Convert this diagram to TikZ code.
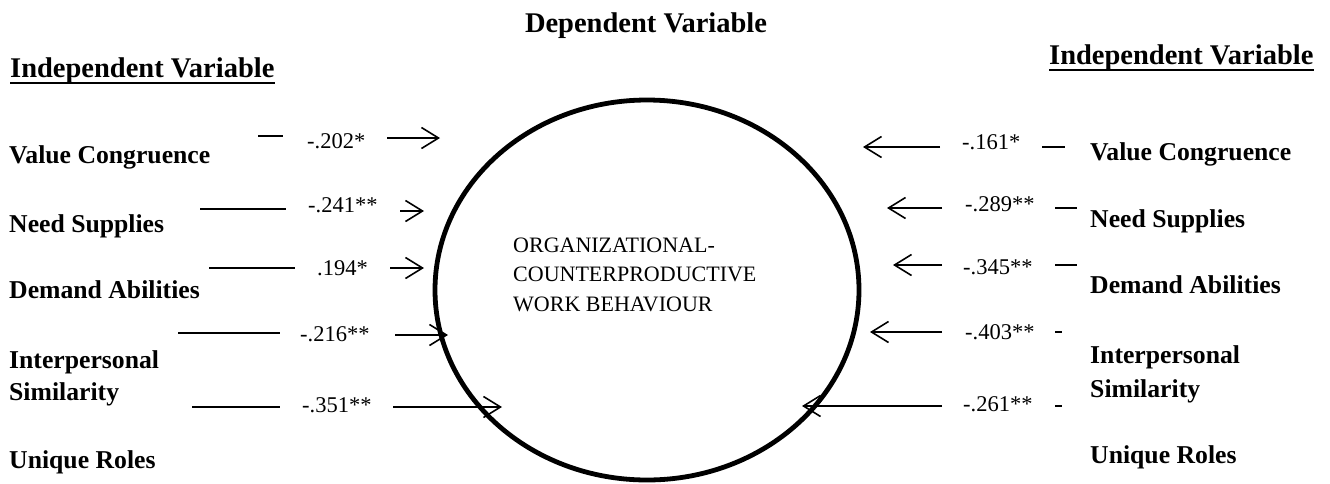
\documentclass[tikz,border=0pt]{standalone}
\usepackage{fontspec}
\setmainfont{Liberation Serif}
\usetikzlibrary{arrows.meta,calc,shapes.geometric}
\begin{document}
\begin{tikzpicture}[x=1pt,y=-1pt,
  lab/.style={anchor=base west, inner sep=0pt, font=\fontsize{25.7}{30}\selectfont\bfseries},
  headtxt/.style={inner sep=0pt, font=\fontsize{28.5}{32}\selectfont\bfseries},
  num/.style={anchor=base west, inner sep=0pt, font=\fontsize{22.5}{27}\selectfont},
  seg/.style={line width=1.6pt},
  arr/.style={line width=1.6pt, -{Straight Barb[length=17pt,width=21pt,line width=1.6pt]}},
  uline/.style={line width=2.4pt},
  ]
\useasboundingbox (0,0) rectangle (1330,483);

% dependent variable
\node[headtxt, anchor=base] (dep) at (646,32) {Dependent Variable};
\node[draw, ellipse, line width=4.8pt, minimum width=424pt, minimum height=380pt, inner sep=0pt] (dv) at (647,290) {};
\node[anchor=north west, inner sep=0pt, align=left, font=\fontsize{22}{29.5}\selectfont] (dvt) at (513,237.5)
  {ORGANIZATIONAL-\\COUNTERPRODUCTIVE\\WORK BEHAVIOUR};

% headings
\node[headtxt, anchor=base west] (lh) at (10,77) {Independent Variable};
\draw[uline] ($(lh.base west)+(0,6)$) -- ($(lh.base east)+(0,6)$);
\node[headtxt, anchor=base west] (rh) at (1049,64) {Independent Variable};
\draw[uline] ($(rh.base west)+(0,6)$) -- ($(rh.base east)+(0,6)$);

% left labels
\node[lab] (l1) at (9,163) {Value Congruence};
\node[lab] (l2) at (9,232) {Need Supplies};
\node[lab] (l3) at (9,298) {Demand Abilities};
\node[lab] (l4) at (9,368) {Interpersonal};
\node[lab] (l4b) at (9,400) {Similarity};
\node[lab] (l5) at (9,468) {Unique Roles};

% right labels
\node[lab] (r1) at (1090,160) {Value Congruence};
\node[lab] (r2) at (1090,227) {Need Supplies};
\node[lab] (r3) at (1090,293) {Demand Abilities};
\node[lab] (r4) at (1090,363) {Interpersonal};
\node[lab] (r4b) at (1090,397) {Similarity};
\node[lab] (r5) at (1090,463) {Unique Roles};

% left numbers
\node[num] (ln1) at (307,148) {-.202*};
\node[num] (ln2) at (308,212) {-.241**};
\node[num] (ln3) at (317,275) {.194*};
\node[num] (ln4) at (300,341) {-.216**};
\node[num] (ln5) at (302,412) {-.351**};

% right numbers
\node[num] (rn1) at (962,149) {-.161*};
\node[num] (rn2) at (965,211) {-.289**};
\node[num] (rn3) at (963,274) {-.345**};
\node[num] (rn4) at (965,339) {-.403**};
\node[num] (rn5) at (963,411) {-.261**};

% left connectors
\coordinate (la1) at (258,136); \coordinate (lb1) at (283,136);
\coordinate (lc1) at (387,138); \coordinate (ld1) at (440,138);
\coordinate (la2) at (200,209); \coordinate (lb2) at (286,209);
\coordinate (lc2) at (400,211); \coordinate (ld2) at (424,211);
\coordinate (la3) at (209,268); \coordinate (lb3) at (295,268);
\coordinate (lc3) at (390,268); \coordinate (ld3) at (424,268);
\coordinate (la4) at (178,333); \coordinate (lb4) at (280,333);
\coordinate (lc4) at (395,335); \coordinate (ld4) at (448,335);
\coordinate (la5) at (192,407); \coordinate (lb5) at (280,407);
\coordinate (lc5) at (393,407); \coordinate (ld5) at (502,407);
\foreach \i in {1,...,5} {
  \draw[seg] (la\i) -- (lb\i);
  \draw[arr] (lc\i) -- (ld\i);
}

% right connectors
\coordinate (rc1) at (940,147); \coordinate (rd1) at (863,147);
\coordinate (ra1) at (1042,147); \coordinate (rb1) at (1065,147);
\coordinate (rc2) at (942,208); \coordinate (rd2) at (887,208);
\coordinate (ra2) at (1055,208); \coordinate (rb2) at (1077,208);
\coordinate (rc3) at (942,265); \coordinate (rd3) at (893,265);
\coordinate (ra3) at (1055,265); \coordinate (rb3) at (1077,265);
\coordinate (rc4) at (942,332); \coordinate (rd4) at (870,332);
\coordinate (ra4) at (1055,332); \coordinate (rb4) at (1062,332);
\coordinate (rc5) at (942,406); \coordinate (rd5) at (802,406);
\coordinate (ra5) at (1055,406); \coordinate (rb5) at (1062,406);
\foreach \i in {1,...,5} {
  \draw[seg] (ra\i) -- (rb\i);
  \draw[arr] (rc\i) -- (rd\i);
}
\end{tikzpicture}
\end{document}
